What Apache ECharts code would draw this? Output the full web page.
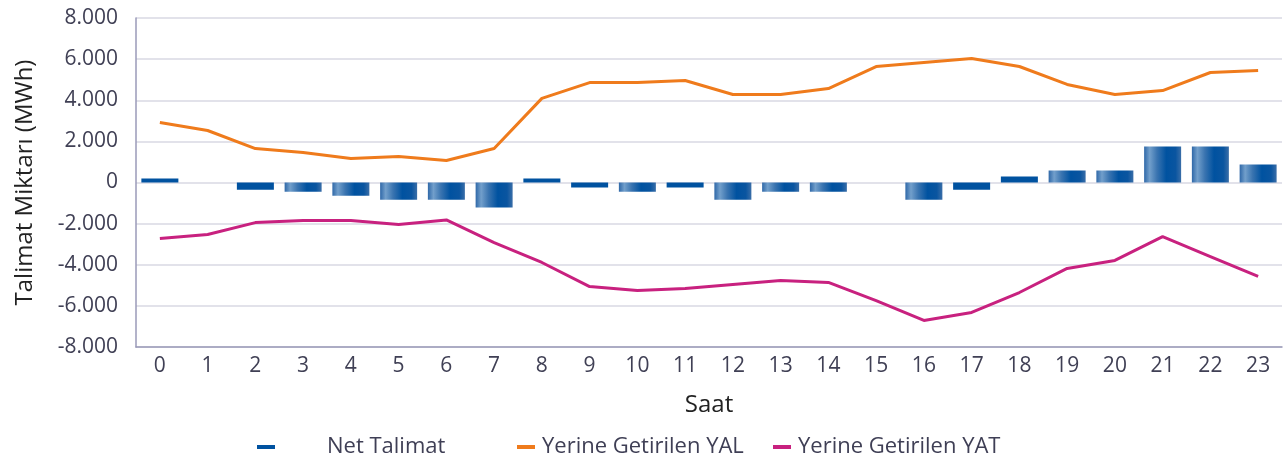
<!DOCTYPE html>
<html>
<head>
<meta charset="utf-8">
<script src="https://cdn.jsdelivr.net/npm/echarts@6/dist/echarts.min.js"></script>
<style>
  html, body { margin: 0; padding: 0; background: #fff; }
</style>
</head>
<body>
<div id="chart" style="width:1285px;height:462px;"></div>
<script>
var hours = ["0","1","2","3","4","5","6","7","8","9","10","11","12","13","14","15","16","17","18","19","20","21","22","23"];
var netTalimat = [200, 0, -350, -450, -650, -840, -840, -1210, 200, -240, -450, -240, -840, -450, -450, 0, -840, -350, 290, 580, 580, 1750, 1750, 870];
var yal = [2920, 2530, 1650, 1460, 1170, 1260, 1070, 1650, 4090, 4860, 4860, 4960, 4280, 4280, 4570, 5640, 5840, 6030, 5640, 4770, 4280, 4470, 5350, 5450];
var yat = [-2720, -2530, -1950, -1850, -1850, -2040, -1820, -2920, -3890, -5060, -5250, -5160, -4960, -4770, -4860, -5740, -6710, -6320, -5350, -4180, -3790, -2630, -3600, -4570];

var font = "'Open Sans', 'Noto Sans', sans-serif";
var blue = "#0052a0";
var orange = "#ef7b1c";
var magenta = "#c8217f";

var barGradient = new echarts.graphic.LinearGradient(0, 0, 1, 0, [
  { offset: 0, color: "#2f68a8" },
  { offset: 0.15, color: "#729fcb" },
  { offset: 0.35, color: "#3a74b0" },
  { offset: 0.6, color: "#0052a0" },
  { offset: 0.85, color: "#0a55a0" },
  { offset: 1, color: "#3a6ea8" }
]);

function fmt(v) {
  var s = Math.abs(v).toString().replace(/\B(?=(\d{3})+(?!\d))/g, ".");
  return (v < 0 ? "-" : "") + s;
}

function legendAt(name, color, left, padLeft) {
  return {
    data: [{ name: name, itemStyle: { color: color } }],
    left: left, top: 431,
    icon: "rect", itemWidth: 18, itemHeight: 4,
    textStyle: { fontSize: 22, color: "#3f3f55", fontFamily: font, padding: [0, 0, 0, padLeft] }
  };
}

var myChart = echarts.init(document.getElementById("chart"));
myChart.setOption({
  animation: false,
  textStyle: { fontFamily: font },
  grid: { left: 136, right: 3, top: 18, bottom: 115 },
  legend: [
    legendAt("Net Talimat", blue, 252, 47),
    legendAt("Yerine Getirilen YAL", orange, 512, 2),
    legendAt("Yerine Getirilen YAT", magenta, 768, 2)
  ],
  xAxis: {
    type: "category",
    data: hours,
    name: "Saat",
    nameLocation: "middle",
    nameGap: 46,
    nameTextStyle: { fontSize: 24, color: "#222", fontFamily: font },
    axisLine: { onZero: false, lineStyle: { color: "#9a9ab8", width: 1.5 } },
    axisTick: { show: false },
    axisLabel: { fontSize: 21, color: "#404055", margin: 9, fontFamily: font }
  },
  yAxis: {
    type: "value",
    min: -8000, max: 8000, interval: 2000,
    name: "Talimat Miktarı (MWh)",
    nameLocation: "middle",
    nameGap: 99,
    nameTextStyle: { fontSize: 24, color: "#222", fontFamily: font },
    axisLine: { show: true, lineStyle: { color: "#9a9ab8", width: 1.5 } },
    axisTick: { show: false },
    axisLabel: { fontSize: 21, color: "#404055", margin: 18, fontFamily: font, formatter: fmt },
    splitLine: { lineStyle: { color: "#e2e2ea", width: 2 } }
  },
  series: [
    {
      name: "Net Talimat",
      type: "bar",
      barWidth: 37,
      data: netTalimat,
      itemStyle: {
        color: function (p) {
          return Math.abs(p.value) > 400 ? barGradient : blue;
        }
      }
    },
    {
      name: "Yerine Getirilen YAL",
      type: "line",
      data: yal,
      symbol: "none",
      lineStyle: { color: orange, width: 3 },
      itemStyle: { color: orange }
    },
    {
      name: "Yerine Getirilen YAT",
      type: "line",
      data: yat,
      symbol: "none",
      lineStyle: { color: magenta, width: 3 },
      itemStyle: { color: magenta }
    }
  ]
});
</script>
</body>
</html>
